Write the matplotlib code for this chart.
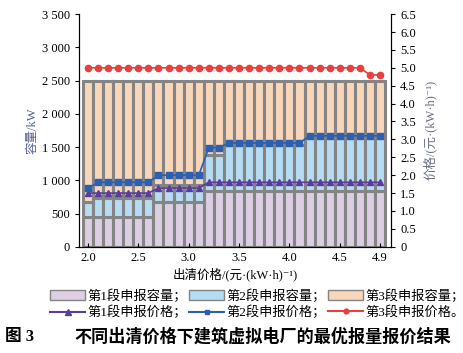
import numpy as np
import matplotlib.pyplot as plt
from matplotlib.patches import Patch
from matplotlib.lines import Line2D

plt.rcParams['font.family'] = ['Liberation Serif', 'Noto Sans CJK SC', 'DejaVu Serif']
plt.rcParams['font.size'] = 9

# clearing price (x)
prices = [2.0, 2.1, 2.2, 2.3, 2.4, 2.5, 2.6, 2.7, 2.8, 2.9, 3.0, 3.1, 3.2, 3.3, 3.4,
          3.5, 3.6, 3.7, 3.8, 3.9, 4.0, 4.1, 4.2, 4.3, 4.4, 4.5, 4.6, 4.7, 4.8, 4.9]

# cumulative bid capacity (kW)
cap1 = [450] * 7 + [675] * 5 + [845] * 18
cap2 = [675] + [740] * 6 + [925] * 5 + [1375] * 2 + [1530] * 8 + [1680] * 8
cap3 = [2500] * 30

# bid prices (yuan/kWh)
bid1 = [1.5] * 7 + [1.64] * 5 + [1.8] * 18
bid2 = [1.63] + [1.8] * 6 + [2.0] * 5 + [2.77] * 2 + [2.9] * 8 + [3.1] * 8
bid3 = [5.0] * 28 + [4.8] * 2

c1, c2, c3 = '#dccfe4', '#b5dcf3', '#f8d6ba'
edge = '#848484'

fig = plt.figure(figsize=(4.64, 3.53), dpi=100)
ax = fig.add_axes([0.170, 0.301, 0.673, 0.659])

x = np.array(prices)
s1 = np.array(cap1)
s2 = np.array(cap2) - s1
s3 = np.array(cap3) - np.array(cap2)
ax.bar(x, s1, width=0.1, color=c1, edgecolor=edge, linewidth=2.2)
ax.bar(x, s2, width=0.1, bottom=s1, color=c2, edgecolor=edge, linewidth=2.2)
ax.bar(x, s3, width=0.1, bottom=cap2, color=c3, edgecolor=edge, linewidth=2.2)

ax.set_xlim(1.91, 5.01)
ax.set_ylim(0, 3500)
ax.set_yticks(np.arange(0, 3501, 500))
ax.set_yticklabels(['0', '500', '1 000', '1 500', '2 000', '2 500', '3 000', '3 500'])
ax.set_xticks([2.0, 2.5, 3.0, 3.5, 4.0, 4.5, 4.9])
ax.set_xticklabels(['2.0', '2.5', '3.0', '3.5', '4.0', '4.5', '4.9'])
ax.tick_params(axis='x', direction='in', length=3)
ax.tick_params(axis='y', direction='out', length=3)
ax.set_ylabel('容量/kW', color='#55608f', labelpad=2)
ax.set_xlabel('出清价格/(元·(kW·h)⁻¹)', labelpad=3)
ax.spines['top'].set_visible(False)

ax2 = ax.twinx()
ax2.set_ylim(0, 6.5)
ax2.set_yticks(np.arange(0, 6.51, 0.5))
ax2.set_yticklabels(['0'] + ['%.1f' % v for v in np.arange(0.5, 6.51, 0.5)])
ax2.tick_params(axis='y', direction='out', length=3)
ax2.spines['top'].set_visible(False)
ax2.set_ylabel('价格/(元·(kW·h)⁻¹)', color='#6a6f80', labelpad=5)

ax2.plot(x, bid1, color='#5a3c9e', marker='^', markersize=5, linewidth=1.2)
ax2.plot(x, bid2, color='#2d5fb0', marker='s', markersize=4.5, linewidth=1.2)
ax2.plot(x, bid3, color='#e8403f', marker='o', markersize=4.5, linewidth=1.2)

handles = [
    Patch(facecolor=c1, edgecolor=edge, label='第1段申报容量；'),
    Line2D([], [], color='#5a3c9e', marker='^', markersize=4, label='第1段申报价格；'),
    Patch(facecolor=c2, edgecolor=edge, label='第2段申报容量；'),
    Line2D([], [], color='#2d5fb0', marker='s', markersize=3.5, label='第2段申报价格；'),
    Patch(facecolor=c3, edgecolor=edge, label='第3段申报容量；'),
    Line2D([], [], color='#e8403f', marker='o', markersize=3.5, label='第3段申报价格。'),
]
fig.legend(handles=handles, ncol=3, loc='center', bbox_to_anchor=(0.555, 0.138),
           frameon=False, fontsize=9.5, handlelength=2.6, handletextpad=0.2,
           columnspacing=0.2, labelspacing=0.25, borderpad=0)

fig.text(0.01, 0.045, '图 3', fontsize=12, fontweight='bold', ha='left', va='center')
fig.text(0.16, 0.045, '不同出清价格下建筑虚拟电厂的最优报量报价结果',
         fontsize=12.3, fontweight='bold', ha='left', va='center')

fig.savefig('out.png', dpi=100)
